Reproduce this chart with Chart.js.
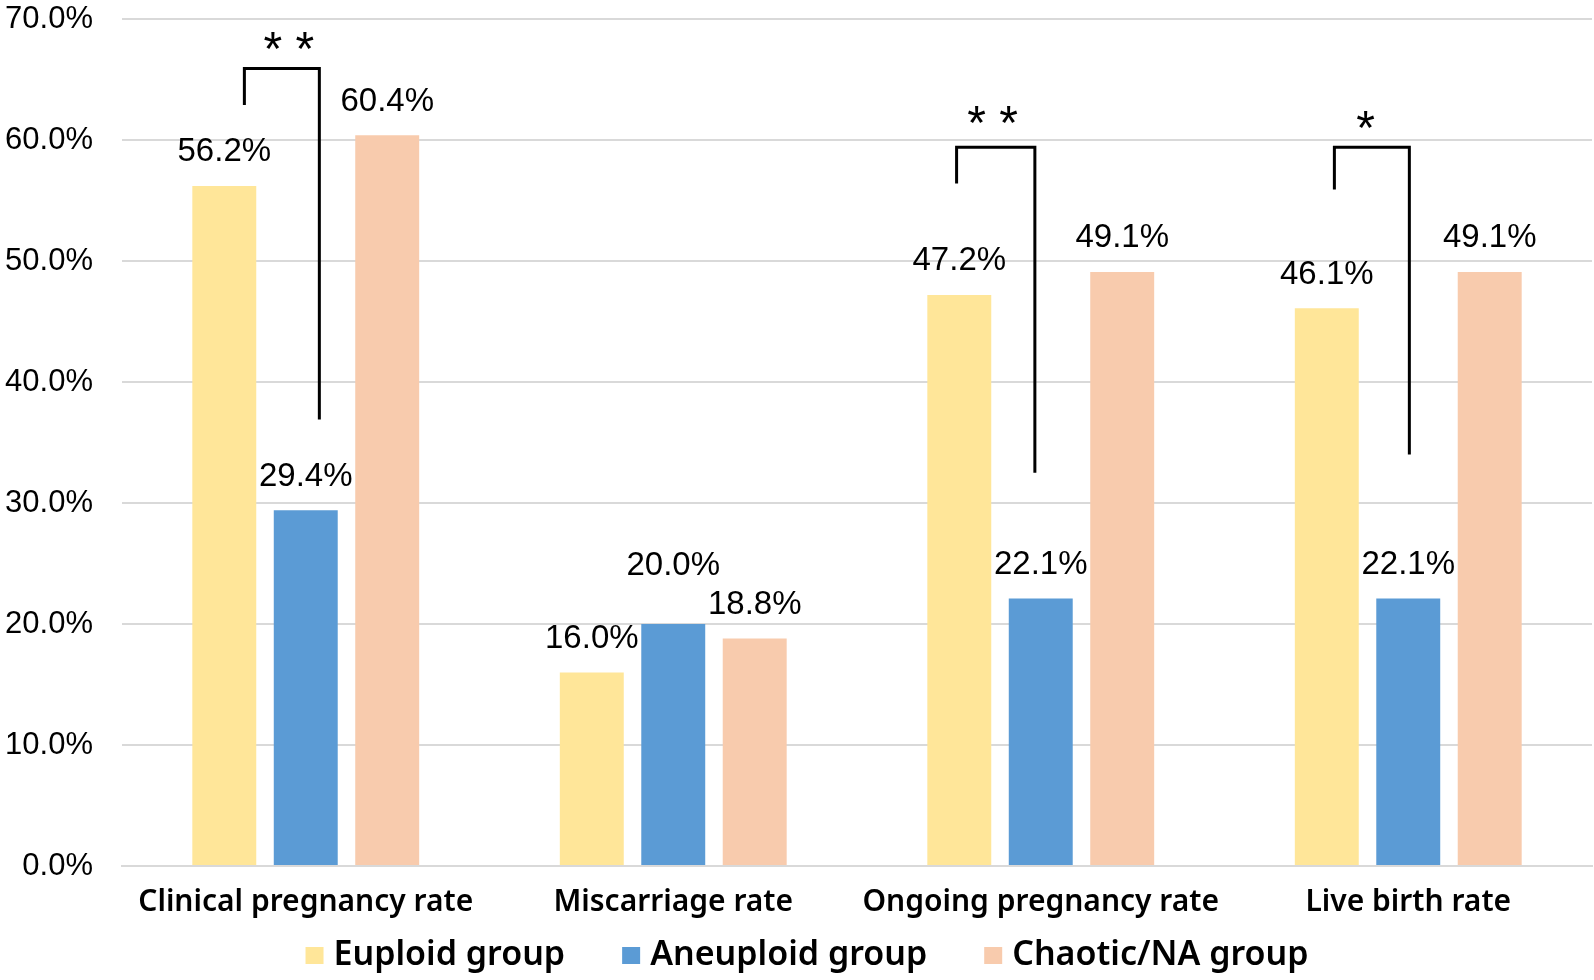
<!DOCTYPE html>
<html><head><meta charset="utf-8">
<script src="https://cdn.jsdelivr.net/npm/chart.js@4"></script>
<style>html,body{margin:0;padding:0;background:#fff;overflow:hidden}</style>
</head><body>
<canvas id="c" width="1594" height="980"></canvas>
<script>
// ---- data ----
const categories = ["Clinical pregnancy rate", "Miscarriage rate", "Ongoing pregnancy rate", "Live birth rate"];
const seriesNames = ["Euploid group", "Aneuploid group", "Chaotic/NA group"];
const euploid = [56.2, 16.0, 47.2, 46.1];
const aneuploid = [29.4, 20.0, 22.1, 22.1];
const chaotic = [60.4, 18.8, 49.1, 49.1];
const yTickValues = [0, 10, 20, 30, 40, 50, 60, 70];
const yTickLabels = ["0.0%", "10.0%", "20.0%", "30.0%", "40.0%", "50.0%", "60.0%", "70.0%"];
const sigMarks = ["* *", "* *", "*"];
const sigCategory = [0, 2, 3];

// ---- annotation layout (category-width offsets, values in %) ----
const bracketLayout = [
  {left: -0.167, right: 0.037, top: 65.9, leftBottom: 62.9, rightBottom: 36.9, starX: -0.046, starY: 68.2},
  {left: -0.229, right: -0.016, top: 59.4, leftBottom: 56.4, rightBottom: 32.5, starX: -0.131, starY: 62.1},
  {left: -0.201, right: 0.003, top: 59.4, leftBottom: 55.9, rightBottom: 34.0, starX: -0.116, starY: 61.7}
];
const colors = ['#FFE699', '#5B9BD5', '#F8CBAD'];

function centerText(ctx, text, x, cy) {
  const m = ctx.measureText(text);
  ctx.fillText(text, x, cy + (m.actualBoundingBoxAscent - m.actualBoundingBoxDescent) / 2);
}

const valueLabels = {
  id: 'valueLabels',
  afterDatasetsDraw(chart) {
    const ctx = chart.ctx;
    ctx.save();
    ctx.font = '33px "Liberation Sans"';
    ctx.fillStyle = '#000';
    ctx.textAlign = 'center';
    ctx.textBaseline = 'alphabetic';
    chart.data.datasets.forEach((ds, di) => {
      const meta = chart.getDatasetMeta(di);
      meta.data.forEach((bar, i) => {
        const lift = (di === 1 && i === 1) ? 61 : 36;
        centerText(ctx, ds.data[i].toFixed(1) + '%', bar.x, bar.y - lift);
      });
    });
    ctx.restore();
  }
};

const brackets = {
  id: 'brackets',
  afterDatasetsDraw(chart) {
    const ctx = chart.ctx, xs = chart.scales.x, ys = chart.scales.y;
    const cw = (xs.right - xs.left) / categories.length;
    ctx.save();
    ctx.strokeStyle = '#000';
    ctx.lineWidth = 3;
    ctx.lineCap = 'butt';
    ctx.lineJoin = 'miter';
    ctx.fillStyle = '#000';
    ctx.textAlign = 'center';
    ctx.font = '48px "Liberation Sans"';
    sigCategory.forEach((ci, k) => {
      const b = bracketLayout[k];
      const cx = xs.getPixelForValue(ci);
      const xl = cx + b.left * cw, xr = cx + b.right * cw;
      ctx.beginPath();
      ctx.moveTo(xl, ys.getPixelForValue(b.leftBottom));
      ctx.lineTo(xl, ys.getPixelForValue(b.top));
      ctx.lineTo(xr, ys.getPixelForValue(b.top));
      ctx.lineTo(xr, ys.getPixelForValue(b.rightBottom));
      ctx.stroke();
      centerText(ctx, sigMarks[k], cx + b.starX * cw, ys.getPixelForValue(b.starY));
    });
    ctx.restore();
  }
};

const customLegend = {
  id: 'customLegend',
  afterDraw(chart) {
    const ctx = chart.ctx;
    ctx.save();
    ctx.font = '600 34px "Noto Sans"';
    ctx.textAlign = 'left';
    ctx.textBaseline = 'alphabetic';
    const bw = 18, bh = 17, gapBox = 10, gapItem = 57;
    const widths = seriesNames.map(n => ctx.measureText(n).width);
    const total = widths.reduce((a, w) => a + bw + gapBox + w, 0) + gapItem * (seriesNames.length - 1);
    let x = 807 - total / 2;
    const baseline = 965;
    seriesNames.forEach((n, i) => {
      ctx.fillStyle = colors[i];
      ctx.fillRect(x, baseline - bh - 1, bw, bh);
      ctx.fillStyle = '#000';
      ctx.fillText(n, x + bw + gapBox, baseline);
      x += bw + gapBox + widths[i] + gapItem;
    });
    ctx.restore();
  }
};

new Chart(document.getElementById('c'), {
  type: 'bar',
  data: {
    labels: categories,
    datasets: [
      {label: seriesNames[0], data: euploid, backgroundColor: colors[0]},
      {label: seriesNames[1], data: aneuploid, backgroundColor: colors[1]},
      {label: seriesNames[2], data: chaotic, backgroundColor: colors[2]}
    ]
  },
  options: {
    responsive: false,
    animation: false,
    devicePixelRatio: 1,
    layout: {padding: {top: 19, right: 2, bottom: 54, left: 0}},
    datasets: {bar: {categoryPercentage: 0.665, barPercentage: 0.785}},
    plugins: {legend: {display: false}, tooltip: {enabled: false}},
    scales: {
      x: {
        grid: {display: false, drawTicks: false},
        border: {display: true, color: '#D9D9D9', width: 2},
        ticks: {font: {family: 'Noto Sans', size: 30, weight: '600'}, color: '#000', padding: 18, maxRotation: 0, autoSkip: false},
        afterFit: s => { s.height = 60; }
      },
      y: {
        min: 0, max: 70,
        afterBuildTicks: s => { s.ticks = yTickValues.map(v => ({value: v})); },
        ticks: {callback: (v, i) => yTickLabels[i], font: {family: 'Liberation Sans', size: 31}, color: '#000', padding: 0},
        grid: {color: '#D9D9D9', lineWidth: 2, drawTicks: true, tickLength: 29, tickColor: 'rgba(0,0,0,0)'},
        border: {display: false},
        afterFit: s => { s.width = 122; }
      }
    }
  },
  plugins: [valueLabels, brackets, customLegend]
});
</script>
</body></html>
